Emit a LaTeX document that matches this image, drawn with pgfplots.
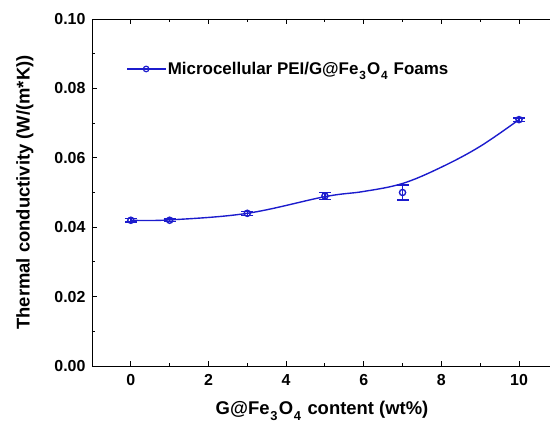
\documentclass[border=0pt]{standalone}
\usepackage{pgfplots}
\pgfplotsset{compat=1.18}
\usepackage{fontspec}
\setmainfont{Liberation Sans}
\definecolor{lineblue}{RGB}{28,28,205}
\newcommand\sub[1]{\kern0.8pt\relax\raisebox{-0.3ex}{\textsubscript{#1}}\kern0.8pt\relax}
\pgfplotsset{
    linemark legend/.style={
        legend image code/.code={
            \draw[mark repeat=2,mark phase=2,##1,mark=o,mark size=2.8pt,mark options={line width=1.2pt}]
                plot coordinates {(0bp,0bp) (19bp,0bp) (38bp,0bp)};
        }
    }
}
\begin{document}
\begin{tikzpicture}
\begin{axis}[
    name=ax,
    scale only axis,
    width=460bp, height=347bp,
    xmin=-1, xmax=10.85,
    ymin=0, ymax=0.1,
    xtick={0,2,4,6,8,10},
    ytick={0,0.02,0.04,0.06,0.08,0.10},
    minor x tick num=1,
    minor y tick num=1,
    ytick pos=left,
    tick align=inside,
    major tick length=5bp,
    minor tick length=3bp,
    axis line style={black, line width=0.9pt},
    tick style={black, line width=0.9pt},
    /pgf/number format/assume math mode=true,
    yticklabel style={/pgf/number format/fixed, /pgf/number format/fixed zerofill,
        /pgf/number format/precision=2, xshift=-3bp},
    xticklabel style={yshift=-5bp},
    scaled y ticks=false,
    tick label style={font=\bfseries\fontsize{16}{18}\selectfont},
    label style={font=\bfseries\fontsize{18.5}{21}\selectfont},
    xlabel={G@Fe\sub{3}O\sub{4} content (wt\%)},
    ylabel={Thermal conductivity (W/(m*K))},
    xlabel style={at={(axis description cs:0.5,-0.13)}, anchor=center},
    ylabel style={at={(axis description cs:-0.146,0.5)}, anchor=center},
    legend style={at={(0.068,0.856)}, anchor=west, draw=none, fill=none,
        font=\bfseries\fontsize{17}{19}\selectfont},
    legend cell align=left,
]
% measured points with error bars
\addplot[lineblue, only marks, mark=o, mark size=3.1pt, line width=1.4pt, forget plot,
    error bars/.cd, y dir=both, y explicit, error mark options={rotate=90, mark size=6bp, line width=1.4pt},
    error bar style={line width=1.4pt}]
    coordinates {
    (0,0.0420) +- (0,0.0005)
    (1,0.0420) +- (0,0.0004)
    (3,0.0440) +- (0,0.0006)
    (5,0.0490) +- (0,0.0010)
    (7,0.0500) +- (0,0.0022)
    (10,0.0710) +- (0,0.0005)
    };
% fitted curve
\addplot[lineblue, line width=1.4pt, smooth, tension=0.6, linemark legend]
    coordinates {
    (0,0.0420) (1,0.0421) (3,0.0440) (5,0.0488) (6,0.0503) (7,0.0526) (8,0.0573) (9,0.0633) (10,0.0710)
    };
\addlegendentry{Microcellular PEI/G@Fe\sub{3}O\sub{4} Foams}
\end{axis}
\pgfresetboundingbox
\path[use as bounding box] ([xshift=-92bp,yshift=-57bp]ax.south west) rectangle ([xshift=-2bp,yshift=19bp]ax.north east);
\end{tikzpicture}
\end{document}
